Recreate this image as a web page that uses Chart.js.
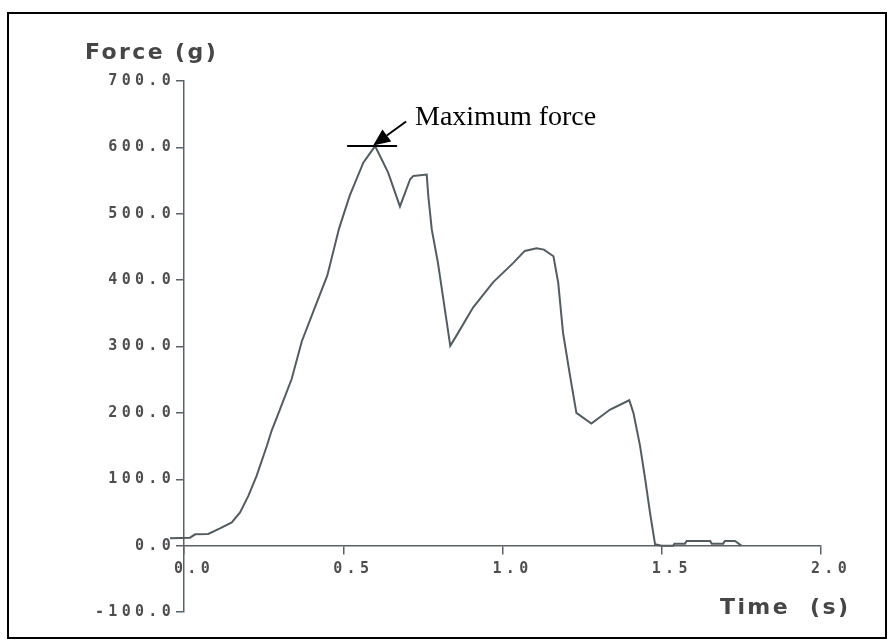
<!DOCTYPE html>
<html><head><meta charset="utf-8">
<script src="https://cdn.jsdelivr.net/npm/chart.js@4.4.1/dist/chart.umd.min.js"></script>
<style>
html,body{margin:0;padding:0;background:#fff;}
#wrap{position:relative;width:894px;height:643px;overflow:hidden;}
#frame{position:absolute;left:7px;top:12px;width:880px;height:627px;border:2px solid #000;box-sizing:border-box;pointer-events:none;}
canvas{position:absolute;left:0;top:0;}
</style></head><body>
<div id="wrap"><canvas id="c" width="894" height="643"></canvas><div id="frame"></div></div>
<script>
const timeS = [-0.044, 0.019, 0.035, 0.076, 0.113, 0.150, 0.176, 0.202, 0.228, 0.260,
  0.275, 0.301, 0.338, 0.370, 0.415, 0.450, 0.487, 0.520, 0.563, 0.600,
  0.641, 0.678, 0.710, 0.720, 0.762, 0.767, 0.778, 0.797, 0.836, 0.855,
  0.908, 0.971, 1.034, 1.070, 1.107, 1.130, 1.160, 1.175, 1.190, 1.212,
  1.232, 1.279, 1.338, 1.398, 1.411, 1.432, 1.448, 1.463, 1.479, 1.500,
  1.536, 1.540, 1.573, 1.578, 1.652, 1.657, 1.693, 1.698, 1.730, 1.750];
const forceG = [11, 12, 17, 17.5, 26, 35, 50, 75, 105, 150,
  173, 205, 251, 308, 364, 407, 478, 527, 577, 602,
  562, 511, 552, 557, 559, 527, 476, 427, 301, 316,
  359, 397, 426, 444, 448, 446, 436, 396, 321, 256,
  200, 184, 205, 219, 200, 150, 100, 50, 2, 0,
  0, 3, 3, 7, 7, 3, 3, 7, 7, 0];
const xTickValues = [0, 0.5, 1.0, 1.5, 2.0];
const yTickValues = [-100, 0, 100, 200, 300, 400, 500, 600, 700];
const yAxisTitle = 'Force (g)';
const xAxisTitle = 'Time  (s)';
const peakLabel = 'Maximum force';

const axisColor = '#5b6266';
const lineColor = '#545c60';
const textColor = '#464646';

const annot = {
  id: 'annot',
  beforeDraw(chart) { chart.ctx.letterSpacing = '4.3px'; },
  afterDraw(chart) {
    const ctx = chart.ctx, xs = chart.scales.x, ys = chart.scales.y;
    ctx.save();
    ctx.letterSpacing = '2.4px';
    ctx.fillStyle = textColor;
    ctx.font = 'bold 22px "DejaVu Sans"';
    ctx.textBaseline = 'alphabetic';
    ctx.textAlign = 'left';
    ctx.fillText(yAxisTitle, 85, 58.5);
    ctx.fillText(xAxisTitle, 720, 614);
    ctx.letterSpacing = '0px';
    let im = 0;
    forceG.forEach((v, i) => { if (v > forceG[im]) im = i; });
    const px = xs.getPixelForValue(timeS[im]);
    const py = ys.getPixelForValue(forceG[im]);
    ctx.strokeStyle = '#000';
    ctx.fillStyle = '#000';
    ctx.lineWidth = 2;
    ctx.beginPath(); ctx.moveTo(px - 28, py); ctx.lineTo(px + 22, py); ctx.stroke();
    const tx = px - 2, ty = py - 0.5;
    const ex = tx + 33, ey = ty - 24;
    const ang = Math.atan2(ey - ty, ex - tx);
    const hl = 17, hw = 7.5;
    const bx = tx + hl * Math.cos(ang), by = ty + hl * Math.sin(ang);
    ctx.beginPath(); ctx.moveTo(bx, by); ctx.lineTo(ex, ey); ctx.stroke();
    ctx.beginPath();
    ctx.moveTo(tx, ty);
    ctx.lineTo(bx + hw * Math.sin(ang), by - hw * Math.cos(ang));
    ctx.lineTo(bx - hw * Math.sin(ang), by + hw * Math.cos(ang));
    ctx.closePath(); ctx.fill();
    ctx.font = '28px "Liberation Serif"';
    ctx.fillText(peakLabel, 415, 125);
    ctx.restore();
  }
};

const tickFont = { family: '"DejaVu Sans Mono"', weight: 'bold', size: 15 };

new Chart(document.getElementById('c'), {
  type: 'scatter',
  data: {
    datasets: [{
      data: timeS.map((t, i) => ({ x: t, y: forceG[i] })),
      showLine: true,
      borderColor: lineColor,
      borderWidth: 2,
      pointRadius: 0,
      tension: 0,
      fill: false,
      clip: false
    }]
  },
  options: {
    responsive: false,
    animation: false,
    devicePixelRatio: 1,
    layout: { padding: { left: 8, right: 73, top: 81, bottom: 31 } },
    plugins: { legend: { display: false }, tooltip: { enabled: false } },
    scales: {
      x: {
        type: 'linear', min: 0, max: 2,
        position: { y: 0 },
        afterBuildTicks: s => { s.ticks = xTickValues.map(v => ({ value: v })); },
        ticks: {
          font: tickFont, color: '#4e4e4e', padding: 6, labelOffset: 10,
          maxRotation: 0, autoSkip: false,
          callback: v => Number(v).toFixed(1)
        },
        grid: { display: true, drawOnChartArea: false, drawTicks: true, tickLength: 8, color: axisColor, lineWidth: 1.5 },
        border: { display: true, color: axisColor, width: 1.5 }
      },
      y: {
        type: 'linear', min: -100, max: 700,
        position: 'left',
        afterBuildTicks: s => { s.ticks = yTickValues.map(v => ({ value: v })); },
        afterFit: s => { s.width = 176; },
        ticks: {
          font: tickFont, color: '#4e4e4e', padding: 1, autoSkip: false,
          callback: v => Number(v).toFixed(1)
        },
        grid: { display: true, drawOnChartArea: false, drawTicks: true, tickLength: 8, color: axisColor, lineWidth: 1.5 },
        border: { display: true, color: axisColor, width: 1.5 }
      }
    }
  },
  plugins: [annot]
});
</script>
</body></html>
